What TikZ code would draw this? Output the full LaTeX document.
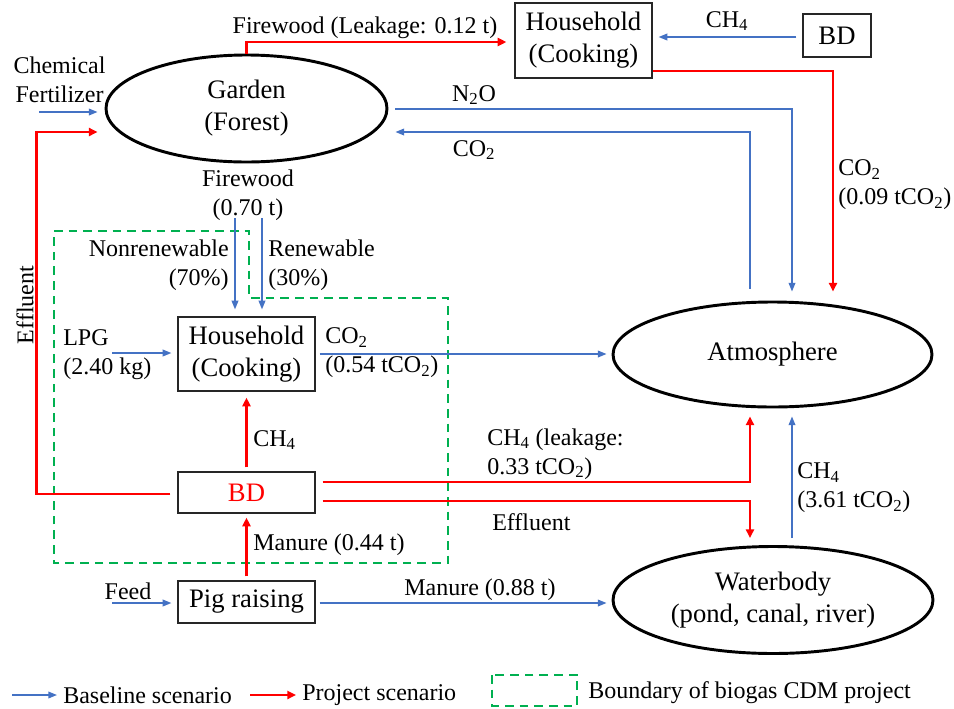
\documentclass[tikz,border=0pt]{standalone}
\usepackage{fontspec}
\setmainfont{Liberation Serif}
\usetikzlibrary{shapes.geometric,arrows.meta,calc}
\definecolor{bl}{HTML}{4472C4}
\definecolor{gr}{HTML}{00B050}
\begin{document}
\begin{tikzpicture}[x=0.75pt,y=-0.75pt,
  big/.style={font=\fontsize{20}{24}\selectfont},
  sm/.style={font=\fontsize{18}{21.75}\selectfont},
  ell/.style={ellipse,draw=black,line width=2.2pt,inner sep=0pt,big,align=center},
  box/.style={rectangle,draw=black!85,line width=0.9pt,inner sep=0pt,big,align=center,minimum width=102.75pt},
  base/.style={draw=bl,line width=1.1pt,-{Triangle[length=6.5pt,width=5pt]}},
  proj/.style={draw=red,line width=2.1pt,-{Triangle[length=6.5pt,width=6pt]}},
  bound/.style={draw=gr,line width=2pt,dash pattern=on 6.5pt off 4.5pt},
  lab/.style={sm,inner sep=0pt,align=left},
]
\useasboundingbox (0,0) rectangle (954,708);

% boundary of project
\draw[bound] (54,231) -- (249,231) -- (249,298) -- (448,298) -- (448,563) -- (54,563) -- cycle;

% main nodes
\node[ell,minimum width=210.75pt,minimum height=80.25pt] (garden) at (246.5,108.5) {Garden\\(Forest)};
\node[box,minimum height=56.25pt] (hh2) at (583.5,40.5) {Household\\(Cooking)};
\node[box,minimum width=51pt,minimum height=32.25pt] (bd2) at (837,35.5) {BD};
\node[box,minimum height=55.5pt] (hh) at (246.5,354) {Household\\(Cooking)};
\node[box,minimum height=30.75pt,text=red] (bd) at (246.5,492.5) {BD};
\node[box,minimum height=31.5pt] (pig) at (246.5,602) {Pig raising};
\node[ell,minimum width=239.25pt,minimum height=78.75pt] (atm) at (772.5,354.5) {Atmosphere};
\node[ell,minimum width=240pt,minimum height=80.25pt] (water) at (773,600) {Waterbody\\(pond, canal, river)};

% free ends
\coordinate (cf) at (39,112);
\coordinate (lpg) at (112,353);
\coordinate (feed) at (112,603);
\coordinate (fwn) at (235,218);
\coordinate (fwr) at (262,218);

% connectors
\draw[proj] (garden.north) |- ($(hh2.west)+(-8,1.5)$);
\draw[base] ($(bd2.west)+(-6,1.5)$) -- ($(hh2.east)+(6,-3.5)$);
\draw[proj] ($(hh2.east)+(0,30.5)$) -| ($(atm.north)+(60.5,-9)$);
\draw[base] ($(garden.east)+(7,0.5)$) -| ($(atm.north)+(19.5,-9)$);
\draw[base] ($(atm.north)+(-22.5,-12)$) |- ($(garden.east)+(7,23.5)$);
\draw[base] (cf) -- ($(garden.west)+(-7,3.5)$);
\draw[proj] ($(bd.west)+(-7,1.5)$) -| ($(garden.west)+(-68,23.5)$) -- ($(garden.west)+(-7,23.5)$);
\draw[base] (fwn) -- ($(hh.north)+(-11.5,-7)$);
\draw[base] (fwr) -- ($(hh.north)+(15.5,-7)$);
\draw[base] (lpg) -- ($(hh.west)+(-6,-1)$);
\draw[base] ($(hh.east)+(4,0)$) -- ($(atm.west)+(-5,-0.5)$);
\draw[proj] ($(bd.north)+(0,-4)$) -- ($(hh.south)+(0,6)$);
\draw[proj] ($(pig.north)+(0,-4)$) -- ($(bd.south)+(0,4)$);
\draw[proj] ($(bd.east)+(7,-10.5)$) -| ($(atm.south)+(-22.5,8)$);
\draw[proj] ($(bd.east)+(7,8.5)$) -| ($(water.north)+(-23,-7)$);
\draw[base] ($(water.north)+(19,-7)$) -- ($(atm.south)+(19.5,8)$);
\draw[base] (feed) -- ($(pig.west)+(-6,1)$);
\draw[base] ($(pig.east)+(4,1)$) -- ($(water.west)+(-5,3)$);

% labels
\node[lab] (l1) at (365,27.5) {Firewood (Leakage: 0.12 t)};
\node[lab] (l2) at (727,21) {CH\textsubscript{4}};
\node[lab] (l3) at (474,95) {N\textsubscript{2}O};
\node[lab] (l4) at (474,150) {CO\textsubscript{2}};
\node[lab,anchor=west] (l5) at (838,185) {CO\textsubscript{2}\\(0.09 tCO\textsubscript{2})};
\node[lab,align=center] (l6) at (59.5,80) {Chemical\\Fertilizer};
\node[lab,align=center] (l7) at (248,195) {Firewood\\(0.70 t)};
\node[lab,anchor=east,align=right] (l8) at (229,265) {Nonrenewable\\(70\%)};
\node[lab,anchor=west] (l9) at (268,265) {Renewable\\(30\%)};
\node[lab,anchor=west] (l10) at (63,355) {LPG\\(2.40 kg)};
\node[lab,anchor=west] (l11) at (325,353) {CO\textsubscript{2}\\(0.54 tCO\textsubscript{2})};
\node[lab,rotate=90] (l12) at (25,305) {Effluent};
\node[lab,anchor=west] (l13) at (253,440) {CH\textsubscript{4}};
\node[lab,anchor=west] (l14) at (253,545) {Manure (0.44 t)};
\node[lab,anchor=west] (l15) at (487,454) {CH\textsubscript{4} (leakage:\\0.33 tCO\textsubscript{2})};
\node[lab,anchor=west] (l16) at (492,522) {Effluent};
\node[lab,anchor=west] (l17) at (797,488) {CH\textsubscript{4}\\(3.61 tCO\textsubscript{2})};
\node[lab] (l18) at (128,591) {Feed};
\node[lab] (l19) at (480,590) {Manure (0.88 t)};

% legend
\coordinate (lg1) at (12,695);
\coordinate (lg2) at (57,695);
\coordinate (lg3) at (250,695);
\coordinate (lg4) at (296,695);
\draw[base] (lg1) -- (lg2);
\node[lab,anchor=west] (lt1) at (63,695) {Baseline scenario};
\draw[proj] (lg3) -- (lg4);
\node[lab,anchor=west] (lt2) at (302,695) {Project scenario};
\draw[bound] (492,675) rectangle (577,706);
\node[lab,anchor=west] (lt3) at (588,693) {Boundary of biogas CDM project};
\end{tikzpicture}
\end{document}
